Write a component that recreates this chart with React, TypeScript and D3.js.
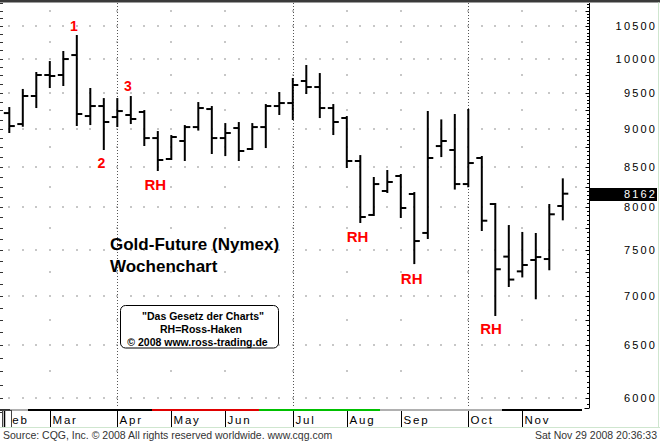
import React from "react";
import * as d3 from "d3";

const W = 660;
const H = 442;

// Weekly OHLC (gold future, price x10)
const opens = [9214, 9063, 9454, 9757, 9757, 10054, 9173, 9312, 9159, 9187, 9229, 8874, 8599, 8835, 9022, 9270, 8874, 9009, 8729, 9022, 9312, 9354, 9669, 9582, 9284, 9146, 8573, 7905, 8195, 8382, 8158, 7694, 8768, 8716, 8281, 8612, 8036, 7425, 7262, 7387, 7398, 8012];
const highs = [9284, 9540, 9786, 9949, 10100, 10346, 9554, 9410, 9410, 9439, 9242, 8955, 8901, 9036, 9354, 9298, 9063, 9077, 9063, 9326, 9496, 9698, 9890, 9771, 9326, 9159, 8637, 8357, 8445, 8395, 8170, 9229, 9113, 9187, 9257, 8625, 8036, 7774, 7694, 7682, 8024, 8340];
const lows = [8955, 9040, 9298, 9582, 9611, 9050, 9063, 8729, 9036, 9077, 8782, 8458, 8599, 8586, 8988, 8677, 8650, 8586, 8729, 8755, 9201, 9132, 9496, 9159, 8928, 8496, 7822, 7905, 8183, 7881, 7353, 7636, 8637, 8225, 8257, 7728, 6801, 7104, 7207, 6974, 7285, 7853];
const closes = [9036, 9454, 9757, 9742, 9994, 9201, 9312, 9091, 9242, 9132, 8874, 8586, 8888, 9022, 9284, 8874, 8942, 8703, 9022, 9312, 9354, 9611, 9582, 9284, 9091, 8573, 7881, 8281, 8307, 7988, 7601, 8612, 8835, 8281, 8547, 7837, 7285, 7173, 7332, 7420, 7913, 8162];

const monthNames = ["Feb", "Mar", "Apr", "May", "Jun", "Jul", "Aug", "Sep", "Oct", "Nov"];
const monthStarts = [0, 3, 8, 12, 16, 21, 25, 29, 34, 38];
const quarterStarts = [8, 21, 34];
const gridMonthStarts = [3, 8, 12, 16, 21, 25, 29, 34, 38, 42];

const priceTicks = [6000, 6500, 7000, 7500, 8000, 8500, 9000, 9500, 10000, 10500];
const midTicks = [6250, 6750, 7250, 7750, 8250, 8750, 9250, 9750, 10250, 10750];
const lastPrice = 8162;

const marks = [
  { t: "1", x: 74, y: 30.7, s: 14 },
  { t: "2", x: 101.5, y: 168, s: 14 },
  { t: "3", x: 128, y: 91, s: 14 },
  { t: "RH", x: 155.3, y: 190, s: 15 },
  { t: "RH", x: 357.5, y: 241.7, s: 15 },
  { t: "RH", x: 411.7, y: 284, s: 15 },
  { t: "RH", x: 491, y: 334, s: 15 },
];

const legendLines = ["\"Das Gesetz der Charts\"", "RH=Ross-Haken", "© 2008 www.ross-trading.de"];
const legendX = [203, 201, 197.5];

const bandSegs = [
  { a: 0, b: 10, c: "#333" },
  { a: 10, b: 28, c: "#b0b0b0" },
  { a: 28, b: 152, c: "#000" },
  { a: 152, b: 259, c: "#e00000" },
  { a: 259, b: 380, c: "#00c000" },
  { a: 380, b: 502, c: "#b0b0b0" },
  { a: 502, b: 582, c: "#000" },
];

export default function App() {
  const x = d3.scaleLinear().domain([0, 41]).range([9.3, 562.8]);
  const y = d3.scaleLog().domain([6000, 10500]).range([398.3, 26.2]);
  const axisX = 589.5;
  const plotTop = 3;
  const plotBottom = 408;

  const allIdx = d3.range(0, 43);
  const minor50 = d3.range(5950, 10950, 50);
  const minor125 = d3.range(5875, 10950, 125);
  const font = "'Liberation Sans', Arial, sans-serif";

  return (
    <div style={{ position: "fixed", left: 0, top: 0, width: W, height: H, background: "#fff" }}>
      <svg width={W} height={H} style={{ display: "block" }} fontFamily={font}>
        <rect x={0} y={0} width={W} height={H} fill="#fff" />
        {/* top border */}
        <rect x={0} y={0} width={W} height={2.5} fill="#3a3a3a" />

        {/* main gridline dots */}
        {priceTicks.map((v) =>
          allIdx.map((i) => (
            <rect key={`g${v}-${i}`} x={Math.round(x(i)) - 0.5} y={Math.round(y(v)) - 0.5} width={1} height={1} fill="#222" />
          ))
        )}
        {midTicks.map((v) =>
          gridMonthStarts.map((i) => (
            <rect key={`m${v}-${i}`} x={Math.round(x(i)) - 0.5} y={Math.round(y(v)) - 0.5} width={1} height={1} fill="#222" />
          ))
        )}
        {/* quarter vertical dotted lines */}
        {quarterStarts.map((i) => (
          <line key={`q${i}`} x1={Math.round(x(i)) + 0.5} x2={Math.round(x(i)) + 0.5} y1={plotTop} y2={plotBottom} stroke="#555" strokeWidth={1} strokeDasharray="1,2" />
        ))}

        {/* left edge ticks */}
        {minor125.map((v) => (
          <line key={`l${v}`} x1={0} x2={3} y1={Math.round(y(v)) + 0.5} y2={Math.round(y(v)) + 0.5} stroke="#333" strokeWidth={1} />
        ))}

        {/* legend box */}
        <rect x={120.5} y={305.5} width={158} height={42.5} rx={5} fill="#fff" stroke="#000" strokeWidth={1} />
        {legendLines.map((t, k) => (
          <text key={`lg${k}`} x={legendX[k]} y={319.5 + k * 13} textAnchor="middle" fontSize={10.5} fontWeight="bold" fill="#000">{t}</text>
        ))}

        {/* title */}
        <text x={110} y={250} fontSize={17} fontWeight="bold" fill="#000">Gold-Future (Nymex)</text>
        <text x={110} y={271.5} fontSize={17} fontWeight="bold" fill="#000">Wochenchart</text>

        {/* OHLC bars */}
        {opens.map((o, i) => {
          const cx = x(i);
          return (
            <g key={`b${i}`} stroke="#000" strokeWidth={2}>
              <line x1={cx} x2={cx} y1={y(highs[i]) - 1} y2={y(lows[i]) + 1} />
              <line x1={cx - 5.5} x2={cx} y1={y(o)} y2={y(o)} />
              <line x1={cx} x2={cx + 5.5} y1={y(closes[i])} y2={y(closes[i])} />
            </g>
          );
        })}

        {/* annotations */}
        {marks.map((m, k) => (
          <text key={`a${k}`} x={m.x} y={m.y} textAnchor="middle" fontSize={m.s} fontWeight="bold" fill="#ff0000">{m.t}</text>
        ))}

        {/* right axis */}
        <line x1={axisX} x2={axisX} y1={plotTop} y2={plotBottom} stroke="#000" strokeWidth={1} />
        <line x1={axisX - 5} x2={axisX} y1={plotBottom + 0.5} y2={plotBottom + 0.5} stroke="#000" strokeWidth={1} />
        {minor50.map((v) => {
          const yy = Math.round(y(v)) + 0.5;
          if (yy < plotTop || yy > plotBottom) return null;
          const len = v % 250 === 0 ? 4 : 2.5;
          return <line key={`t${v}`} x1={axisX - len} x2={axisX} y1={yy} y2={yy} stroke="#000" strokeWidth={1} />;
        })}
        {priceTicks.map((v) => (
          <text key={`p${v}`} x={655 + 2.2} y={y(v) + 4} textAnchor="end" fontSize={11} letterSpacing={2.2} fill="#000">{v}</text>
        ))}
        <rect x={590} y={188} width={67} height={13} fill="#000" />
        <text x={655 + 2.2} y={y(lastPrice) + 4.5} textAnchor="end" fontSize={11} letterSpacing={2.2} fill="#fff">{lastPrice}</text>

        {/* colored band */}
        {bandSegs.map((s, k) => (
          <line key={`s${k}`} x1={s.a} x2={s.b} y1={410} y2={410} stroke={s.c} strokeWidth={2} />
        ))}

        {/* month axis */}
        {monthNames.map((mn, k) => {
          const bx = Math.round(x(monthStarts[k])) + 0.5;
          return (
            <g key={`mo${mn}`}>
              {k > 0 && <line x1={bx} x2={bx} y1={411} y2={427} stroke="#000" strokeWidth={1} />}
              <text x={k === 0 ? 3.5 : bx + 2} y={423.5} fontSize={11.5} letterSpacing={1.8} fill="#000">{mn}</text>
            </g>
          );
        })}
        <rect x={2.5} y={410.5} width={9} height={17} fill="#fff" stroke="#444" strokeWidth={1} />
        <line x1={4.5} x2={4.5} y1={411} y2={427} stroke="#000" strokeWidth={1.5} />
        <line x1={0} x2={W} y1={427.5} y2={427.5} stroke="#cfe6cf" strokeWidth={1} />
        <line x1={658.5} x2={658.5} y1={2.5} y2={428} stroke="#cfe6cf" strokeWidth={1} />

        {/* footer */}
        <text x={3} y={439.3} fontSize={10.5} fill="#333">Source: CQG, Inc. © 2008 All rights reserved worldwide. www.cqg.com</text>
        <text x={657} y={439.3} textAnchor="end" fontSize={10.5} fill="#333">Sat Nov 29 2008 20:36:33</text>
      </svg>
    </div>
  );
}
